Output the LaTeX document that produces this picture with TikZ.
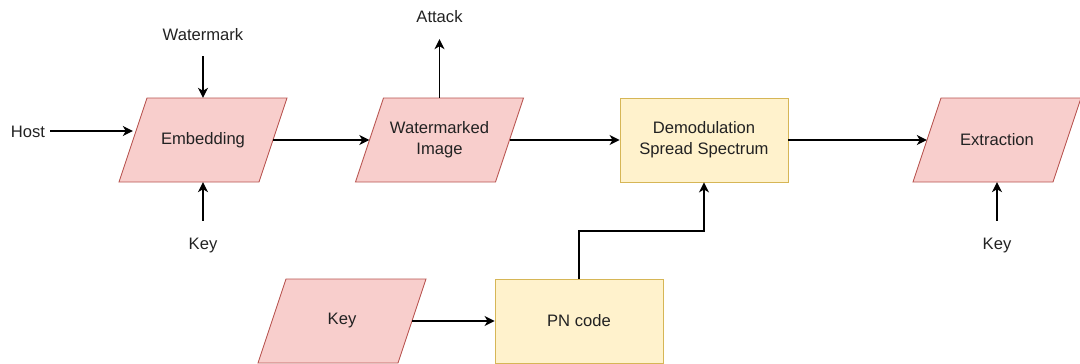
\documentclass[tikz,border=0pt]{standalone}
\usepackage{fontspec}
\setmainfont{Liberation Sans}
\usetikzlibrary{arrows.meta,calc}
\definecolor{pinkfill}{HTML}{F8CECC}
\definecolor{pinkline}{HTML}{B85450}
\definecolor{yellowfill}{HTML}{FFF2CC}
\definecolor{yellowline}{HTML}{D6B656}
\definecolor{txt}{HTML}{222222}
\tikzset{
  base/.style={font=\fontsize{16.6}{21}\selectfont, text=txt, align=center},
  % text area of a slanted data block; its outline is drawn by \databox
  para/.style={base, rectangle, minimum width=140pt, minimum height=84pt, inner sep=0pt},
  paraline/.style={fill=pinkfill, draw=pinkline, line width=0.9pt, line join=miter},
  procbox/.style={base, rectangle, minimum width=168pt, minimum height=84pt, inner sep=0pt,
    fill=yellowfill, draw=yellowline, line width=0.9pt},
  tag/.style={base, text height=12pt, text depth=0pt, inner xsep=5pt, inner ysep=16pt},
  arr/.style={-{Stealth[length=10pt,width=10pt,inset=3pt]}, line width=1.2pt, black},
}
% slanted data block: outline 168 x 84 with a 28 pt slant, then the named node
\newcommand\databox[3]{%
  \path[paraline] ($(#2)+(-56,-42)$) -- ($(#2)+(84,-42)$) -- ($(#2)+(56,42)$)
    -- ($(#2)+(-84,42)$) -- cycle;
  \node[para] (#1) at (#2) {#3};
}
\begin{document}
\begin{tikzpicture}[x=1pt,y=-1pt]
\useasboundingbox (0,0) rectangle (1080,364);

% process chain
\databox{emb}{203,140}{Embedding}
\databox{wm}{439.5,140}{Watermarked\\Image}
\node[procbox] (dem) at (704,140) {Demodulation\\Spread Spectrum};
\databox{ext}{997,140}{Extraction}

% key generation
\databox{key}{342,321}{Key}
\node[procbox] (pn) at (579,321) {PN code};

% inputs and outputs
\node[tag] (host) at (28,131) {Host};
\node[tag] (wmk) at (203,34) {Watermark};
\node[tag] (k1) at (203,243) {Key};
\node[tag] (att) at (439.5,17) {Attack};
\node[tag] (k2) at (997,243) {Key};
\coordinate (bend) at (704,231);

\draw[arr] (host.east) -- (host -| emb.west);
\draw[arr] (wmk) -- (emb);
\draw[arr] (k1) -- (emb);
\draw[arr] (emb) -- (wm);
\draw[arr] (wm) -- (att);
\draw[arr] (wm) -- (dem);
\draw[arr] (dem) -- (ext);
\draw[arr] (k2) -- (ext);
\draw[arr] (key) -- (pn);
\draw[arr] (pn.north) |- (bend) -- (dem.south);
\end{tikzpicture}
\end{document}
